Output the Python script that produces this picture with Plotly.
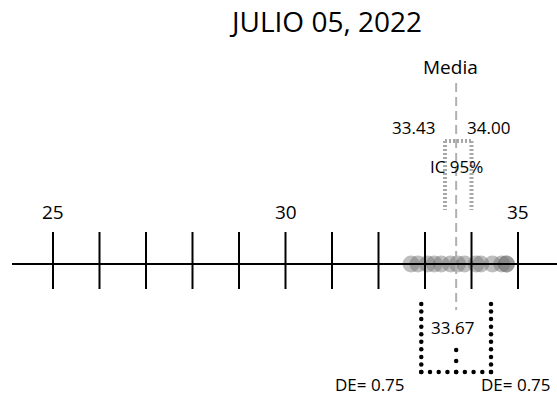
import numpy as np
import plotly.graph_objects as go

# --- data -------------------------------------------------------------
TITLE = "JULIO 05, 2022"
tick_values = list(range(25, 36))
tick_labels = {25: "25", 30: "30", 35: "35"}
observations = [32.7, 32.85, 33.05, 33.2, 33.35, 33.55, 33.7, 33.85,
                34.1, 34.2, 34.45, 34.65, 34.75, 34.75]
mean_value = 33.67
ci_low, ci_high = 33.43, 34.00
sd_value = 0.75

# --- layout helpers (pixel scale of the number line) -----------------
W, H = 557, 400
PX_PER_UNIT = 46.5
X0 = 25 - 53 / PX_PER_UNIT
X1 = X0 + W / PX_PER_UNIT
AXIS_Y = 264
FONT = "Open Sans"

fig = go.Figure()

# number line
fig.add_shape(type="line", x0=X0 + 12 / PX_PER_UNIT, x1=X1, y0=AXIS_Y, y1=AXIS_Y,
              line=dict(color="black", width=2))
for v in tick_values:
    fig.add_shape(type="line", x0=v, x1=v, y0=232, y1=289,
                  line=dict(color="black", width=2))
for v, lab in tick_labels.items():
    fig.add_annotation(x=v, y=212, text=lab, showarrow=False,
                       font=dict(size=19, color="black", family=FONT))

# observations
fig.add_trace(go.Scatter(
    x=observations, y=[AXIS_Y] * len(observations), mode="markers",
    marker=dict(size=17, color="rgba(110,110,110,0.45)", line=dict(width=0)),
    hoverinfo="x", showlegend=False))

# mean line
fig.add_shape(type="line", x0=mean_value, x1=mean_value, y0=83, y1=310,
              line=dict(color="#b0b0b0", width=2, dash="9px,5px"), layer="above")
fig.add_annotation(x=mean_value, y=67, text="Media", showarrow=False,
                   xshift=-6, font=dict(size=19, color="black", family=FONT))

# 95% confidence interval bracket
ci_style = dict(color="#a8a8a8", width=4, dash="2px,2px")
fig.add_shape(type="line", x0=ci_low, x1=ci_low, y0=141, y1=210, line=ci_style)
fig.add_shape(type="line", x0=ci_high, x1=ci_high, y0=141, y1=210, line=ci_style)
fig.add_shape(type="line", x0=ci_low, x1=ci_high, y0=141, y1=141, line=ci_style)
fig.add_annotation(x=ci_low, y=127, text=f"{ci_low:.2f}", showarrow=False,
                   xanchor="right", xshift=-8,
                   font=dict(size=17, color="black", family=FONT))
fig.add_annotation(x=ci_high, y=127, text=f"{ci_high:.2f}", showarrow=False,
                   xanchor="left", xshift=-7,
                   font=dict(size=17, color="black", family=FONT))
fig.add_annotation(x=(ci_low + ci_high) / 2, y=166, text="IC 95%", showarrow=False,
                   xshift=-2, font=dict(size=17, color="black", family=FONT))

# standard deviation box (dotted)
sd_lo, sd_hi = mean_value - sd_value, mean_value + sd_value
side_y = np.linspace(304, 372, 10)
n_bottom = 9
bottom_x = np.linspace(sd_lo, sd_hi, n_bottom)
center_y = np.array([350, 361, 372])
dot_x = np.concatenate([[sd_lo] * len(side_y), [sd_hi] * len(side_y), bottom_x,
                        [mean_value] * len(center_y)])
dot_y = np.concatenate([side_y, side_y, [372] * n_bottom, center_y])
fig.add_trace(go.Scatter(x=dot_x, y=dot_y, mode="markers",
                         marker=dict(size=4.5, color="black"),
                         hoverinfo="skip", showlegend=False))
fig.add_annotation(x=mean_value, y=327, text=f"{mean_value:.2f}", showarrow=False,
                   xshift=-4, font=dict(size=17, color="black", family=FONT))
fig.add_annotation(x=sd_lo, y=384, text=f"DE= {sd_value:.2f}", showarrow=False,
                   xanchor="right", xshift=-14,
                   font=dict(size=17, color="black", family=FONT))
fig.add_annotation(x=sd_hi, y=384, text=f"DE= {sd_value:.2f}", showarrow=False,
                   xanchor="left", xshift=-12,
                   font=dict(size=17, color="black", family=FONT))

fig.update_layout(
    width=W, height=H,
    margin=dict(l=0, r=0, t=0, b=0),
    paper_bgcolor="white", plot_bgcolor="white",
    title=dict(text=TITLE, x=327 / W, xanchor="center", y=1 - 22 / H, yanchor="middle",
               font=dict(size=28, color="black", family=FONT)),
    xaxis=dict(range=[X0, X1], visible=False, fixedrange=True),
    yaxis=dict(range=[H, 0], visible=False, fixedrange=True),
    showlegend=False,
)

fig.write_html("out.html")
